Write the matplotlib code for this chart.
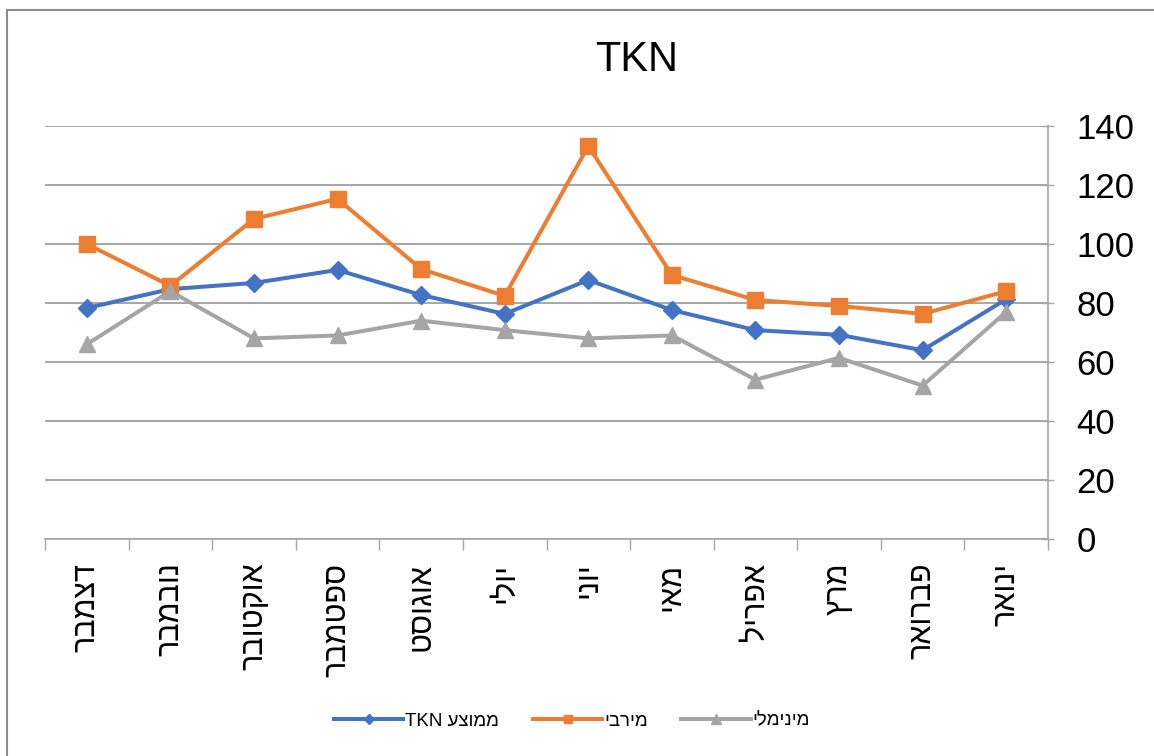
import matplotlib
matplotlib.use("Agg")
import matplotlib.pyplot as plt
from matplotlib.patches import Rectangle
from matplotlib.ticker import FixedLocator, NullFormatter

plt.rcParams['font.family'] = ['Liberation Sans', 'DejaVu Sans']

# months, January first (the axis runs right to left)
months = ['ינואר', 'פברואר', 'מרץ', 'אפריל', 'מאי', 'יוני',
          'יולי', 'אוגוסט', 'ספטמבר', 'אוקטובר', 'נובמבר', 'דצמבר']
avg_tkn = [81.3, 64, 69.2, 70.8, 77.6, 87.8, 76.3, 82.7, 91.2, 86.8, 84.7, 78.3]
max_tkn = [84, 76.3, 79, 81, 89.5, 133.2, 82.4, 91.5, 115.3, 108.5, 85.8, 100]
min_tkn = [77, 52, 61.4, 54, 69, 68, 70.8, 74, 69, 68, 84, 66]

labels = ['ממוצע TKN', 'מירבי', 'מינימלי']
yticks = [0, 20, 40, 60, 80, 100, 120, 140]


def visual(s):
    # matplotlib has no bidi: put hebrew runs in display order
    words = s.split(' ')
    out = []
    for w in reversed(words):
        if any('\u0590' <= c <= '\u05ff' for c in w):
            out.append(w[::-1])
        else:
            out.append(w)
    return ' '.join(out)


W, H = 1154, 756
fig = plt.figure(figsize=(W / 100, H / 100), dpi=100)
ax = fig.add_axes([45 / W, 1 - 539 / H, (1048 - 45) / W, (539 - 126) / H])

x = list(range(len(months)))
ax.plot(x, avg_tkn, color='#4472C4', lw=2.9, marker='D', ms=9, label=visual(labels[0]), zorder=3)
ax.plot(x, max_tkn, color='#ED7D31', lw=2.9, marker='s', ms=11.5, label=visual(labels[1]), zorder=4)
ax.plot(x, min_tkn, color='#A5A5A5', lw=2.9, marker='^', ms=12, label=visual(labels[2]), zorder=5)

ax.set_xlim(len(months) - 0.5, -0.5)
ax.set_ylim(0, 140)

grid_c = '#a6a6a6'
ax.set_yticks(yticks)
ax.yaxis.tick_right()
ax.tick_params(axis='y', direction='inout', length=9, width=1, color=grid_c,
               labelsize=25, pad=16)
ax.grid(axis='y', color=grid_c, lw=1.4, zorder=0)

# category boundaries get the tick marks, centres get the labels
ax.xaxis.set_major_locator(FixedLocator([i - 0.5 for i in range(len(months) + 1)]))
ax.xaxis.set_major_formatter(NullFormatter())
ax.xaxis.set_minor_locator(FixedLocator(x))
ax.set_xticklabels([visual(m) for m in months], minor=True, rotation=90,
                   va='top', ha='center', fontsize=22)
ax.tick_params(axis='x', which='major', direction='out', length=8, width=1, color=grid_c)
ax.tick_params(axis='x', which='minor', length=0, pad=17)

for s in ['top', 'left']:
    ax.spines[s].set_visible(False)
ax.spines['bottom'].set_color(grid_c)
ax.spines['right'].set_color(grid_c)
ax.spines['bottom'].set_linewidth(1.2)
ax.spines['right'].set_linewidth(1.2)

fig.text(637 / W, 1 - 60 / H, 'TKN', ha='center', va='center', fontsize=30)

fig.legend(loc='center', bbox_to_anchor=(572 / W, 1 - 721 / H), ncol=3,
           frameon=False, fontsize=13.5, handlelength=3.7, handletextpad=0.1,
           columnspacing=1.8, markerscale=0.55)

fig.patches.append(Rectangle((7 / W, -0.1), 1.2, 1 - 10 / H + 0.1,
                             transform=fig.transFigure, fill=False,
                             ec='#8c8c8c', lw=1.5))

fig.savefig('out.png', dpi=100)
